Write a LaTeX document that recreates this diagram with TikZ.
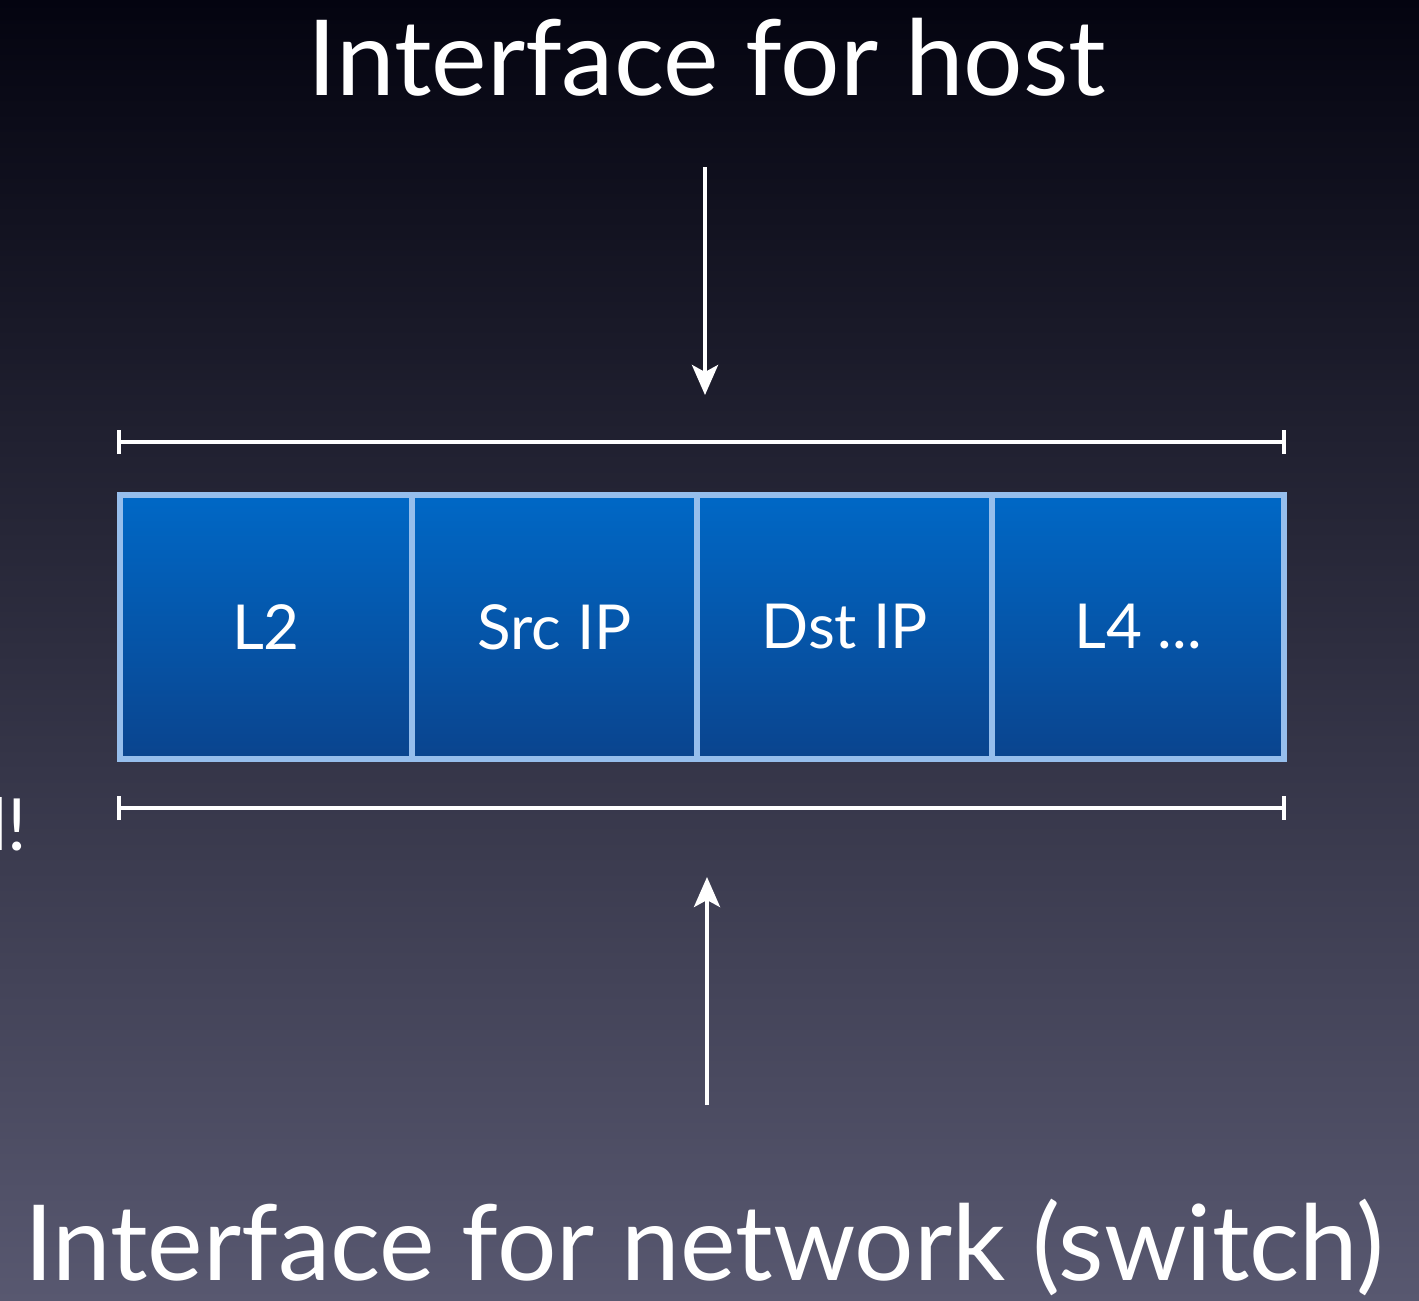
\documentclass[tikz,border=0pt]{standalone}
\usepackage{fontspec}
\setmainfont{Lato}
\usetikzlibrary{arrows.meta,positioning}
\definecolor{bgtop}{RGB}{4,4,16}
\definecolor{bgmid}{RGB}{36,36,66}
\definecolor{bgbot}{RGB}{88,88,112}
\definecolor{fldtop}{RGB}{0,104,198}
\definecolor{fldbot}{RGB}{10,68,142}
\definecolor{fldrim}{RGB}{150,190,236}
\tikzset{
  fld/.style={draw=fldrim, line width=6pt, top color=fldtop, bottom color=fldbot, minimum height=264pt, inner sep=0pt, outer sep=0pt, text=white, font=\fontsize{62}{64}\selectfont},
  ttl/.style={text=white, inner sep=0pt, font=\fontsize{105}{108}\selectfont},
  arr/.style={-{Stealth[length=30pt, width=26pt, inset=7pt]}, white, line width=4pt},
  span/.style={{Bar[width=24pt]}-{Bar[width=24pt]}, white, line width=4pt}
}

\begin{document}
\begin{tikzpicture}[x=1pt, y=-1pt]
  \useasboundingbox[top color=bgtop, middle color=bgmid, bottom color=bgbot] (0,0) rectangle (1419,1301);
  \node[ttl, anchor=base] (host) at (707,95) {Interface for host};
  \node[ttl, anchor=base] (net) at (704,1280) {Interface for network (switch)};
  \node[fld, minimum width=292pt] (l2) at (266,627) {L2};
  \node[fld, minimum width=285pt, right=0pt of l2] (src) {Src IP};
  \node[fld, minimum width=295pt, right=0pt of src] (dst) {Dst IP};
  \node[fld, minimum width=292pt, right=0pt of dst] (l4) {L4 ...};
  \node[text=white, anchor=base east, inner sep=0pt, font=\fontsize{72}{74}\selectfont] (cut) at (27,850) {l!};
  \coordinate (tl) at (117,442); \coordinate (tr) at (1286,442);
  \coordinate (bl) at (117,808); \coordinate (br) at (1286,808);
  \coordinate (dn) at (705,167); \coordinate (dnend) at (705,395);
  \coordinate (up) at (707,1105); \coordinate (upend) at (707,877);
  \draw[span] (tl) -- (tr);
  \draw[span] (bl) -- (br);
  \draw[arr] (dn) -- (dnend);
  \draw[arr] (up) -- (upend);
\end{tikzpicture}
\end{document}
